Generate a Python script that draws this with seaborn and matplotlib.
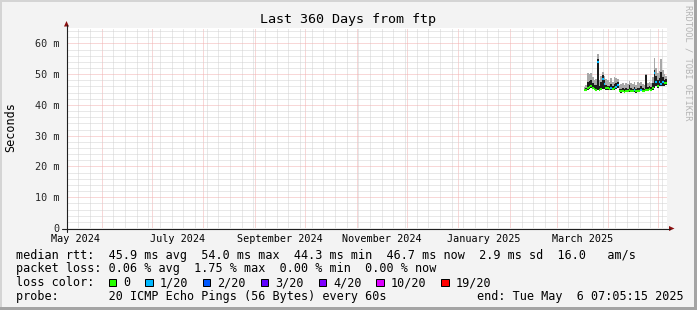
import numpy as np
import pandas as pd
import matplotlib
matplotlib.use("Agg")
import matplotlib.pyplot as plt
import matplotlib.dates as mdates
from matplotlib.ticker import NullFormatter, MultipleLocator
from matplotlib.lines import Line2D
from matplotlib.patches import Rectangle, Polygon
from matplotlib.transforms import blended_transform_factory
import seaborn as sns

# ---------------- data ----------------
title = "Last 360 Days from ftp"
y_label = "Seconds"
range_start = "2024-05-11 07:05:15"
range_end = "2025-05-06 07:05:15"
data_start = "2025-03-17 07:00"

y_ticks = [0, 10, 20, 30, 40, 50, 60]
y_tick_labels = ["0", "10 m", "20 m", "30 m", "40 m", "50 m", "60 m"]
x_label_months = ["2024-05-01", "2024-07-01", "2024-09-01", "2024-11-01", "2025-01-01", "2025-03-01"]
x_tick_labels = ["May 2024", "July 2024", "September 2024", "November 2024", "January 2025", "March 2025"]

# daily consolidated values (ms)
median_ms = [44.8, 44.8, 45.4, 45.8, 46.3, 45.6, 45.2, 45.0, 54.0, 45.0,
             45.3, 48.3, 46.8, 45.6, 45.4, 45.2, 45.5, 45.3, 45.6, 45.8,
             46.5, 44.6, 44.4, 44.5, 44.3, 44.6, 44.5, 44.8, 44.6, 44.5,
             44.7, 44.4, 44.6, 44.5, 44.8, 44.6, 44.5, 45.0, 44.8, 45.2,
             45.0, 45.6, 50.5, 47.5, 46.2, 47.3, 46.8, 47.6, 47.0, 47.2]
smoke_low_ms = [44.5, 44.5, 44.9, 45.2, 45.5, 45.1, 44.8, 44.7, 44.8, 44.6,
                44.8, 45.2, 45.3, 45.0, 44.9, 44.8, 45.0, 44.8, 45.0, 45.2,
                45.4, 44.2, 44.0, 44.1, 44.0, 44.2, 44.1, 44.3, 44.2, 44.1,
                44.3, 44.0, 44.2, 44.1, 44.4, 44.2, 44.1, 44.5, 44.4, 44.7,
                44.6, 45.0, 45.6, 46.0, 45.6, 46.0, 46.0, 46.3, 46.2, 46.4]
smoke_dark_ms = [45.2, 45.4, 47.5, 47.8, 48.2, 47.0, 46.5, 46.4, 55.0, 46.2,
                 47.5, 49.7, 48.0, 46.5, 46.3, 46.2, 46.8, 46.2, 46.8, 47.0,
                 47.3, 45.3, 45.2, 45.4, 45.1, 45.4, 45.2, 46.5, 45.6, 45.3,
                 45.8, 45.2, 45.6, 45.4, 46.0, 45.5, 45.3, 49.7, 45.8, 46.0,
                 45.8, 47.0, 51.5, 49.5, 48.2, 48.8, 50.7, 49.0, 48.2, 48.3]
smoke_high_ms = [45.8, 46.5, 50.5, 50.0, 50.5, 49.0, 48.0, 48.5, 56.5, 48.0,
                 49.5, 50.7, 49.5, 48.3, 48.0, 47.5, 48.8, 47.5, 49.0, 48.8,
                 48.5, 46.5, 46.8, 47.2, 46.5, 47.0, 46.8, 47.8, 47.0, 46.8,
                 47.3, 46.6, 47.5, 47.0, 47.6, 46.8, 46.6, 50.2, 47.0, 47.4,
                 47.0, 49.0, 55.3, 52.0, 50.5, 51.0, 54.8, 51.5, 50.0, 49.5]
loss_count = [0, 0, 0, 0, 0, 0, 0, 0, 1, 0,
              0, 1, 1, 0, 0, 0, 1, 0, 0, 1,
              1, 0, 0, 0, 0, 0, 0, 0, 0, 0,
              1, 0, 0, 0, 1, 0, 0, 0, 0, 0,
              0, 0, 1, 1, 0, 1, 1, 1, 0, 0]

loss_values = [0, 1, 2, 3, 4, 10, 19]
loss_labels = ["0", "1/20", "2/20", "3/20", "4/20", "10/20", "19/20"]
loss_colors = ["#26ff00", "#00b8ff", "#0059ff", "#5e00ff", "#7e00ff", "#dd00ff", "#ff0000"]

legend_rtt = "median rtt:  45.9 ms avg  54.0 ms max  44.3 ms min  46.7 ms now  2.9 ms sd  16.0   am/s"
legend_loss = "packet loss: 0.06 % avg  1.75 % max  0.00 % min  0.00 % now"
legend_color_head = "loss color:"
legend_probe = "probe:       20 ICMP Echo Pings (56 Bytes) every 60s"
legend_end = "end: Tue May  6 07:05:15 2025"
watermark = "RRDTOOL / TOBI OETIKER"

# ---------------- style ----------------
sns.set_style("white")
MONO = ["DejaVu Sans Mono", "DejaVu Sans"]
plt.rcParams["font.family"] = MONO
plt.rcParams["text.color"] = "#000000"

W, H = 697, 310
fig = plt.figure(figsize=(W / 100, H / 100), dpi=100, facecolor="#f3f3f3")


def fx(px):
    return px / W


def fy(py):
    return 1 - py / H


ax = fig.add_axes([fx(67), fy(228), 600 / W, 200 / H])
ax.set_facecolor("white")
for s in ax.spines.values():
    s.set_visible(False)

# ---------------- data marks ----------------
edges = pd.date_range(data_start, periods=len(median_ms) + 1, freq="D")
lo = np.array(smoke_low_ms + smoke_low_ms[-1:])
dk = np.array(smoke_dark_ms + smoke_dark_ms[-1:])
hi = np.array(smoke_high_ms + smoke_high_ms[-1:])
ax.fill_between(edges, lo, hi, step="post", color="#a8a8a8", lw=0, zorder=1)
ax.fill_between(edges, lo, dk, step="post", color="#1c1c1c", lw=0, zorder=1.1)

label_of = dict(zip(loss_values, loss_labels))
rows = []
for i, (m, l) in enumerate(zip(median_ms, loss_count)):
    rows.append({"time": edges[i], "rtt": m, "loss": label_of[l], "seg": i})
    rows.append({"time": edges[i + 1], "rtt": m, "loss": label_of[l], "seg": i})
df = pd.DataFrame(rows)
sns.lineplot(data=df, x="time", y="rtt", hue="loss", units="seg", estimator=None,
             palette=dict(zip(loss_labels, loss_colors)), lw=1.5,
             legend=False, ax=ax, zorder=3, solid_capstyle="butt")

# ---------------- axes / grid ----------------
t0, t1 = pd.Timestamp(range_start), pd.Timestamp(range_end)
ax.set_xlim(t0, t1)
ax.set_ylim(0, 65)
ax.set_xlabel("")
ax.set_ylabel("")

ax.xaxis.set_major_locator(mdates.MonthLocator())
ax.xaxis.set_minor_locator(mdates.WeekdayLocator(byweekday=mdates.SA))
ax.xaxis.set_major_formatter(NullFormatter())
ax.xaxis.set_minor_formatter(NullFormatter())
ax.set_yticks(y_ticks)
ax.set_yticklabels(y_tick_labels)
ax.yaxis.set_minor_locator(MultipleLocator(2))

ax.set_axisbelow(True)
dot = (0, (1, 1))
ax.grid(which="major", color="#f2b0b0", ls=dot, lw=0.72)
ax.grid(which="minor", color="#d2d2d2", ls=dot, lw=0.72)

ax.tick_params(axis="x", which="major", length=2.2, width=0.72, color="#e07070", direction="out")
ax.tick_params(axis="x", which="minor", length=1.5, width=0.72, color="#aaaaaa", direction="out")
ax.tick_params(axis="y", which="both", length=2.2, width=0.72, color="#555555", direction="out",
               labelsize=7.3, pad=2.9)
for lab in ax.get_yticklabels():
    lab.set_family(MONO)

# x labels at middle of every second month
blend = blended_transform_factory(ax.transData, fig.transFigure)
for m, txt in zip(x_label_months, x_tick_labels):
    a = pd.Timestamp(m)
    mid = a + (a + pd.offsets.MonthBegin(1) - a) / 2
    ax.text(mid, fy(241.7), txt, transform=blend, ha="center", va="baseline",
            fontsize=7.3, family=MONO, clip_on=False)

# axis lines and arrows
fig.add_artist(Line2D([fx(66.5), fx(66.5)], [fy(232), fy(25)], transform=fig.transFigure,
                      color="#202020", lw=0.8))
fig.add_artist(Line2D([fx(62), fx(670)], [fy(228.5), fy(228.5)], transform=fig.transFigure,
                      color="#202020", lw=0.8))
fig.add_artist(Polygon([[fx(64), fy(26.5)], [fx(69), fy(26.5)], [fx(66.5), fy(21)]],
                       closed=True, transform=fig.transFigure, color="#8b1010", lw=0))
fig.add_artist(Polygon([[fx(669), fy(226)], [fx(669), fy(231)], [fx(674.5), fy(228.5)]],
                       closed=True, transform=fig.transFigure, color="#8b1010", lw=0))

# ---------------- texts ----------------
fig.text(fx(348), fy(23.3), title, ha="center", va="baseline", fontsize=9.6, family=MONO)
fig.text(fx(11), fy(127), y_label, ha="center", va="center", rotation=90, fontsize=8.5, family=MONO)
fig.text(fx(688), fy(5), watermark, ha="center", va="top", rotation=270, fontsize=6.3,
         color="#b4b4b4", family=MONO)

LEG = 8.5
adv = 7.08
fig.text(fx(16), fy(258.5), legend_rtt, ha="left", va="baseline", fontsize=LEG, family=MONO)
fig.text(fx(16), fy(272.3), legend_loss, ha="left", va="baseline", fontsize=LEG, family=MONO)
fig.text(fx(16), fy(286.1), legend_color_head, ha="left", va="baseline", fontsize=LEG, family=MONO)
fig.text(fx(16), fy(299.9), legend_probe, ha="left", va="baseline", fontsize=LEG, family=MONO)
fig.text(fx(477), fy(299.9), legend_end, ha="left", va="baseline", fontsize=LEG, family=MONO)

xs = 108.5
for lab, col in zip(loss_labels, loss_colors):
    fig.add_artist(Rectangle((fx(xs), fy(286)), 7.5 / W, 7.5 / H, transform=fig.transFigure,
                             facecolor=col, edgecolor="black", lw=0.72))
    fig.text(fx(xs + 14.5), fy(286.1), lab, ha="left", va="baseline", fontsize=LEG, family=MONO)
    xs = xs + 14.5 + len(lab) * adv + 15

# frame shading
fig.add_artist(Rectangle((0, fy(2)), 1, 2 / H, transform=fig.transFigure, color="#d4d4d4", lw=0))
fig.add_artist(Rectangle((0, 0), 2 / W, 1, transform=fig.transFigure, color="#d4d4d4", lw=0))
fig.add_artist(Rectangle((fx(694), 0), 3 / W, 1, transform=fig.transFigure, color="#a4a4a4", lw=0))
fig.add_artist(Rectangle((0, 0), 1, 3 / H, transform=fig.transFigure, color="#a4a4a4", lw=0))

fig.savefig("out.png", dpi=100, facecolor=fig.get_facecolor())
